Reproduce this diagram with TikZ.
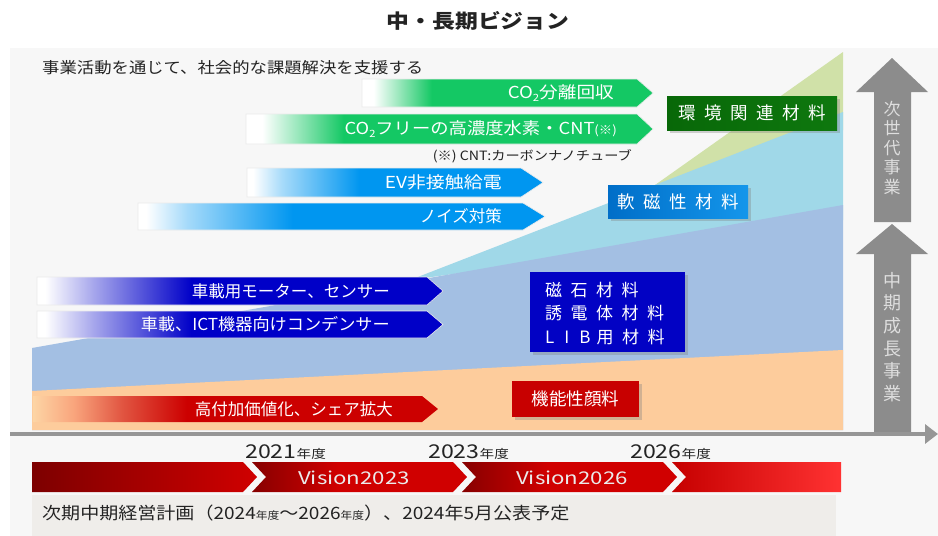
\documentclass[tikz,border=0pt]{standalone}
\usepackage{fontspec}
\setmainfont{Noto Sans CJK JP}
\usetikzlibrary{shadows,arrows.meta}
\definecolor{cgreen}{RGB}{20,200,100}
\definecolor{cblue}{RGB}{0,150,240}
\definecolor{cdblue}{RGB}{0,0,200}
\definecolor{cred}{RGB}{204,0,0}
\definecolor{peach}{RGB}{253,213,165}
\definecolor{salmon}{RGB}{249,165,125}
\definecolor{redmid}{RGB}{225,85,65}
\definecolor{envgreen}{RGB}{8,104,8}
\definecolor{envgreen2}{RGB}{14,120,14}
\definecolor{softL}{RGB}{0,110,200}
\definecolor{softR}{RGB}{20,150,235}
\definecolor{magblue}{RGB}{2,2,196}
\definecolor{pigred}{RGB}{200,0,0}
\definecolor{wgreen}{RGB}{208,225,168}
\definecolor{wlblue}{RGB}{160,216,232}
\definecolor{wblue}{RGB}{163,191,227}
\definecolor{worange}{RGB}{253,204,156}
\definecolor{arrowgray}{RGB}{140,140,140}
\definecolor{vtxt}{RGB}{222,222,222}
\definecolor{panel}{RGB}{247,247,247}
\definecolor{notebg}{RGB}{239,237,234}
\definecolor{axisgray}{RGB}{150,150,150}
\definecolor{txt}{RGB}{35,35,35}
\definecolor{darkred}{RGB}{125,0,0}
\definecolor{segdark}{RGB}{135,0,0}
\definecolor{segred}{RGB}{208,0,0}
\definecolor{brightred}{RGB}{255,50,50}
\pgfdeclarehorizontalshading{gfade}{100bp}{color(0bp)=(white); color(25bp)=(white); color(27bp)=(white); color(37bp)=(cgreen); color(100bp)=(cgreen)}
\pgfdeclarehorizontalshading{bfade}{100bp}{color(0bp)=(white); color(25bp)=(white); color(26bp)=(white); color(31bp)=(cblue!35); color(44bp)=(cblue); color(100bp)=(cblue)}
\pgfdeclarehorizontalshading{dbfade}{100bp}{color(0bp)=(white); color(25bp)=(white); color(26bp)=(white); color(32bp)=(cdblue!35); color(44bp)=(cdblue); color(100bp)=(cdblue)}
\pgfdeclarehorizontalshading{rfade}{100bp}{color(0bp)=(peach); color(25bp)=(peach); color(30bp)=(salmon); color(36bp)=(redmid); color(44bp)=(cred); color(100bp)=(cred)}
\pgfdeclarehorizontalshading{segsh}{100bp}{color(0bp)=(segdark); color(25bp)=(segdark); color(45bp)=(segred); color(100bp)=(segred)}
\newcommand{\sbs}[1]{{\fontsize{10}{10}\selectfont\raisebox{-3pt}{#1}}}
\newcommand{\nd}{{\fontsize{10.5}{10.5}\selectfont 年度}}
\newcommand{\ls}{\hspace{8.5pt}}
\newcommand{\hsc}[2]{\scalebox{#1}[1]{#2}}
\tikzset{
  lab/.style={inner sep=0pt, text=white, font=\fontsize{16.5}{16.5}\selectfont},
  fadeedge/.style={draw=black!8, line width=0.6pt},
  matbox/.style={inner sep=0pt, text=white, drop shadow={shadow xshift=2.5pt, shadow yshift=-3pt, opacity=0.35}},
  vtext/.style={inner sep=0pt, align=center, text=vtxt},
  year/.style={inner sep=0pt, anchor=base west, text=txt, font=\fontsize{19}{19}\selectfont},
  vis/.style={inner sep=0pt, text=white!92!black, font=\fontsize{17.5}{17.5}\selectfont},
}
\begin{document}
\begin{tikzpicture}[x=1pt,y=-1pt]
\useasboundingbox (0,0) rectangle (938,536);
\fill[white] (0,0) rectangle (938,536);
\fill[panel] (10,48) rectangle (938,536);

% title and subtitle
\node[inner sep=0pt, text=txt, font=\bfseries\fontsize{19.5}{19.5}\selectfont] (title) at (478,21) {\hsc{1.17}{中・長期ビジョン}};
\node[inner sep=0pt, anchor=west, text=txt, font=\fontsize{15.5}{15.5}\selectfont] (sub) at (42,68) {\hsc{1.12}{事業活動を通じて、社会的な課題解決を支援する}};

% stacked areas
\fill[wgreen] (655,185) -- (843,52) -- (843,130) -- cycle;
\fill[wlblue] (410,280) -- (843,112) -- (843,220) -- cycle;
\fill[wblue] (32,430) -- (32,348) -- (843,205) -- (843,430) -- cycle;
\fill[worange] (32,430) -- (32,391) -- (843,350) -- (843,430) -- cycle;

% green arrows
\shade[shading=gfade, fadeedge] (362,79) -- (637,79) -- (653,93) -- (637,107) -- (362,107) -- cycle;
\node[lab, anchor=east] (co2a) at (614,93) {\hsc{1.13}{CO\sbs{2}分離回収}};
\shade[shading=gfade, fadeedge] (246,114) -- (637,114) -- (653,129) -- (637,144) -- (246,144) -- cycle;
\node[lab, anchor=east] (co2b) at (617,129) {\hsc{1.11}{CO\sbs{2}フリーの高濃度水素・CNT{\fontsize{12}{12}\selectfont(※)}}};
\node[inner sep=0pt, anchor=east, text=txt, font=\fontsize{12.8}{12.8}\selectfont] (cntnote) at (632,156) {\hsc{1.11}{(※) CNT:カーボンナノチューブ}};

% light blue arrows
\shade[shading=bfade, fadeedge] (247,168) -- (521,168) -- (543,182.5) -- (521,197) -- (247,197) -- cycle;
\node[lab, anchor=east] (ev) at (502,182.5) {\hsc{1.15}{EV非接触給電}};
\shade[shading=bfade, fadeedge] (138,203) -- (523,203) -- (545,216.5) -- (523,230) -- (138,230) -- cycle;
\node[lab, anchor=east] (noise) at (502,216.5) {ノイズ対策};

% dark blue arrows
\shade[shading=dbfade, fadeedge] (37,277) -- (427,277) -- (443,291) -- (427,305) -- (37,305) -- cycle;
\node[lab, anchor=east] (motor) at (390,291) {車載用モーター、センサー};
\shade[shading=dbfade, fadeedge] (37,311) -- (427,311) -- (443,324.5) -- (427,338) -- (37,338) -- cycle;
\node[lab, anchor=east] (cond) at (390,324.5) {\hsc{1.04}{車載、ICT機器向けコンデンサー}};

% red arrow
\shade[shading=rfade] (33,396) -- (422,396) -- (438,409) -- (422,422) -- (33,422) -- cycle;
\node[lab, anchor=east] (share) at (393,409) {高付加価値化、シェア拡大};

% material boxes
\node[matbox, left color=envgreen, right color=envgreen2, minimum width=170pt, minimum height=34pt, anchor=north west, font=\fontsize{17.5}{17.5}\selectfont] (env) at (667,96) {環\ls 境\ls 関\ls 連\ls 材\ls 料\hspace{9pt}};
\node[matbox, left color=softL, right color=softR, minimum width=140pt, minimum height=33pt, anchor=north west, font=\fontsize{17.5}{17.5}\selectfont] (soft) at (608,185) {軟\ls 磁\ls 性\ls 材\ls 料};
\node[matbox, fill=magblue, minimum width=155pt, minimum height=80pt, anchor=north west] (mag) at (530,272) {};
\node[inner sep=0pt, anchor=north west, align=left, text=white, font=\fontsize{17}{23.5}\selectfont] (magtxt) at (545,282) {磁\ls 石\ls 材\ls 料\\誘\ls 電\ls 体\ls 材\ls 料\\L\hspace{10pt}I\hspace{10pt}B\hspace{6pt}用\ls 材\ls 料};
\node[matbox, fill=pigred, minimum width=127pt, minimum height=36pt, anchor=north west, font=\fontsize{17.5}{17.5}\selectfont] (pig) at (512,381) {機能性顔料};

% gray arrows
\fill[arrowgray] (874,222) -- (874,92) -- (856,92) -- (892,58) -- (928,92) -- (911,92) -- (911,222) -- cycle;
\node[vtext, font=\fontsize{17}{19.5}\selectfont] (nextgen) at (892,148) {次\\世\\代\\事\\業};
\fill[arrowgray] (874,432) -- (874,254) -- (856,254) -- (892,224) -- (928,254) -- (911,254) -- (911,432) -- cycle;
\node[vtext, font=\fontsize{18}{22.6}\selectfont] (midterm) at (892,337) {中\\期\\成\\長\\事\\業};

% axis
\coordinate (axs) at (10,434);
\coordinate (axe) at (938,434);
\draw[axisgray, line width=4pt, -{Triangle[length=13pt,width=19pt]}] (axs) -- (axe);

% year labels
\node[year] (y21) at (245,458) {\hsc{1.22}{2021{\fontsize{12}{12}\selectfont 年度}}};
\node[year] (y23) at (428,458) {\hsc{1.22}{2023{\fontsize{12}{12}\selectfont 年度}}};
\node[year] (y26) at (630,458) {\hsc{1.22}{2026{\fontsize{12}{12}\selectfont 年度}}};

% timeline bar
\shade[left color=darkred, right color=segred] (32,462) -- (243,462) -- (257,477) -- (243,492) -- (32,492) -- cycle;
\shade[shading=segsh] (252,462) -- (453,462) -- (467,477) -- (453,492) -- (252,492) -- (266,477) -- cycle;
\shade[shading=segsh] (462,462) -- (663,462) -- (677,477) -- (663,492) -- (462,492) -- (476,477) -- cycle;
\shade[left color=segred!95!black, right color=brightred] (672,462) -- (841,462) -- (841,492) -- (672,492) -- (686,477) -- cycle;
\node[vis] (v23) at (354,478) {\hsc{1.27}{Vision2023}};
\node[vis] (v26) at (572,478) {\hsc{1.27}{Vision2026}};

% note box
\fill[notebg] (32,495) rectangle (836,536);
\node[inner sep=0pt, anchor=west, text=txt, font=\fontsize{17}{17}\selectfont] (plan) at (42,513) {\hsc{1.12}{次期中期経営計画（2024\nd～2026\nd）、2024年5月公表予定}};
\end{tikzpicture}
\end{document}
